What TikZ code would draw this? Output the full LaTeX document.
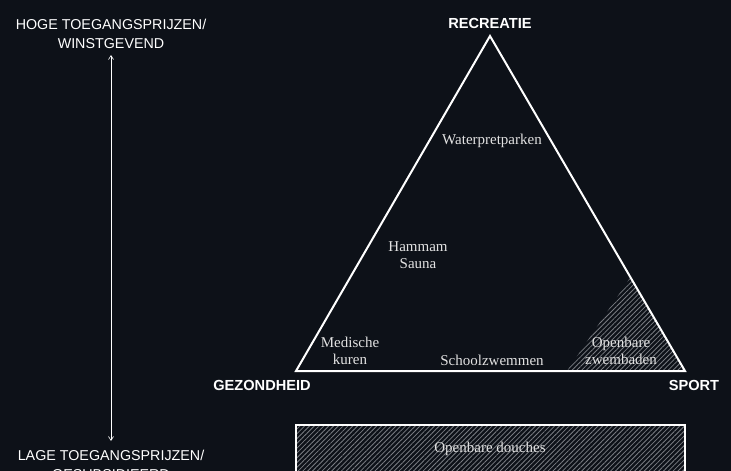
\documentclass[tikz,border=0pt]{standalone}
\usepackage{fontspec}
\setmainfont{Liberation Serif}
\newfontfamily\labfont{Liberation Sans}
\usetikzlibrary{patterns.meta,arrows.meta}
\definecolor{bg}{HTML}{0D1118}
\definecolor{txt}{HTML}{E2E2E2}
\definecolor{hatch}{HTML}{7A7D83}
\begin{document}
\begin{tikzpicture}[x=1pt,y=-1pt,
  axis/.style={text=white, font=\labfont\fontsize{14.3}{19}\selectfont, align=center},
  corner/.style={text=white, font=\labfont\bfseries\fontsize{14.6}{16}\selectfont},
  item/.style={text=txt, font=\fontsize{15}{17.5}\selectfont, align=center},
  hatched/.style={pattern={Lines[angle=45,distance=3.4pt,line width=0.8pt]}, pattern color=hatch}]
\fill[bg] (0,0) rectangle (731,471);
\useasboundingbox (0,0) rectangle (731,471);
% hatched area of triangle
\fill[hatched] (630,278) -- (685,371) -- (567,371) -- cycle;
% triangle
\coordinate (top) at (490,36);
\coordinate (left) at (296,371);
\coordinate (right) at (685,371);
\draw[white, line width=2pt, line join=miter] (top) -- (right) -- (left) -- cycle;
% bottom rectangle
\fill[hatched] (296,425) rectangle (685,480);
\draw[white, line width=1.8pt] (296,480) -- (296,425) -- (685,425) -- (685,480);
% axis
\node[axis] (hoog) at (111,33.5) {HOGE TOEGANGSPRIJZEN/\\WINSTGEVEND};
\node[axis] (laag) at (111,464.5) {LAGE TOEGANGSPRIJZEN/\\GESUBSIDIEERD};
\coordinate (a1) at (111,55);
\coordinate (a2) at (111,441);
\draw[white, line width=0.6pt, {Straight Barb[length=4pt,width=5pt]}-{Straight Barb[length=4pt,width=5pt]}] (a1) -- (a2);
% corners
\node[corner] (rec) at (490,23) {RECREATIE};
\node[corner] (gez) at (262,385) {GEZONDHEID};
\node[corner] (spo) at (694,385) {SPORT};
% items
\node[item] (wat) at (492,141) {Waterpretparken};
\node[item] (ham) at (418,255) {Hammam\\Sauna};
\node[item] (med) at (350,351) {Medische\\kuren};
\node[item] (sch) at (492,360) {Schoolzwemmen};
\node[item] (opz) at (621,351) {Openbare\\zwembaden};
\node[item] (opd) at (490,449) {Openbare douches};
\end{tikzpicture}
\end{document}
